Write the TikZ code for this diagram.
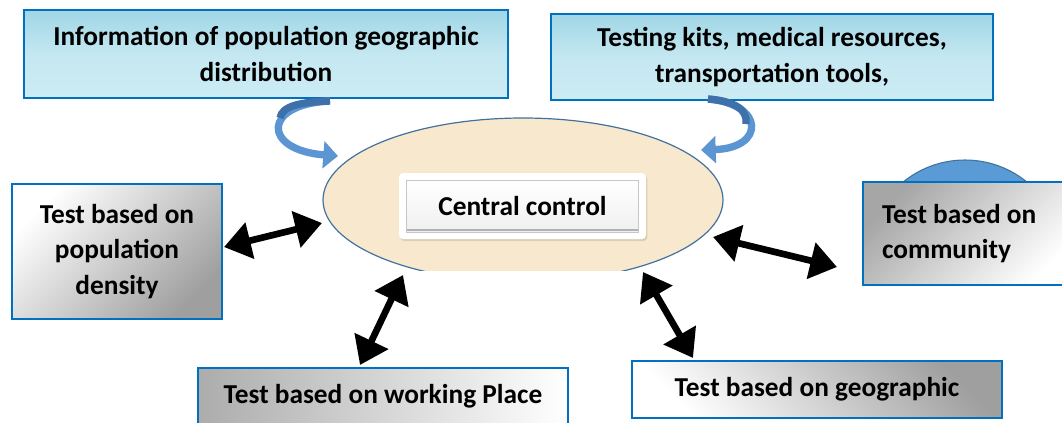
\documentclass[tikz,border=0pt]{standalone}
\usepackage{fontspec}
\setmainfont{Carlito}
\usetikzlibrary{arrows.meta,shadows}
\definecolor{frameblue}{RGB}{0,112,192}
\definecolor{waterlight}{RGB}{205,236,244}
\definecolor{waterdark}{RGB}{160,214,230}
\definecolor{ellfill}{RGB}{248,233,206}
\definecolor{ellline}{RGB}{65,113,156}
\definecolor{ribbon}{RGB}{91,150,210}
\definecolor{ribbondark}{RGB}{62,112,170}
\definecolor{domeblue}{RGB}{91,155,213}
\tikzset{
  txt/.style={font=\bfseries\fontsize{20.5}{26.5}\selectfont, align=center, text=black},
  infobox/.style={txt, draw=frameblue, line width=1.6pt, top color=waterdark, bottom color=waterlight, middle color=waterlight!80!waterdark},
  testbox/.style={txt, draw=frameblue, line width=1.6pt},
  dblarrow/.style={line width=5pt, black, {Triangle[length=20pt,width=27pt]}-{Triangle[length=20pt,width=27pt]}},
  curlarrow/.style={line width=5.5pt, ribbon, -{Triangle[length=11pt,width=20pt]}},
}
\begin{document}
\begin{tikzpicture}[x=0.75pt,y=-0.75pt]
\useasboundingbox (0,0) rectangle (1062,422);

% blue dome peeking above the community box
\begin{scope}
  \clip (850,150) rectangle (1062,200);
  \fill[domeblue, draw=ellline, line width=0.8pt] (965,258) circle[radius=98];
\end{scope}

% central ellipse, flat at its lower edge
\begin{scope}
  \clip (300,100) rectangle (760,270);
  \draw[fill=ellfill, draw=ellline, line width=0.9pt] (523,200) ellipse[x radius=200, y radius=82];
\end{scope}

% information boxes
\node[infobox, minimum width=363pt, minimum height=66pt] (info) at (266,54)
  {Information of population geographic\\ distribution};
\node[infobox, minimum width=331.5pt, minimum height=64.5pt] (res) at (772,57)
  {Testing kits, medical resources,\\ transportation tools,};

% central button
\node[fill=white, rounded corners=3pt, drop shadow={opacity=0.25, shadow xshift=1pt, shadow yshift=-1.5pt},
      minimum width=185.25pt, minimum height=49.5pt] (ctrl) at (522.5,206) {};
\node[txt, top color=white, bottom color=gray!12, draw=gray!45, line width=0.6pt,
      minimum width=174pt, minimum height=39pt] (ctrllabel) at (ctrl.center) {Central control};
\draw[gray!60, line width=1.5pt] ([xshift=1pt,yshift=1.5pt]ctrllabel.south west) -- ([xshift=-1pt,yshift=1.5pt]ctrllabel.south east);

% test boxes
\node[testbox, top color=white, bottom color=gray!75, shading angle=45,
      minimum width=157.5pt, minimum height=101.25pt] (dens) at (117,251.5)
  {Test based on\\ population\\ density};
\node[testbox, left color=gray!65, right color=white,
      minimum width=277.5pt, minimum height=42pt] (work) at (383,396)
  {Test based on working Place};
\node[testbox, top color=gray!70, bottom color=white, shading angle=45, align=flush left,
      text width=130.5pt, inner xsep=14.25pt, minimum height=77.25pt] (comm) at (969,233.5)
  {Test based on\\ community};
\node[testbox, top color=gray!75, bottom color=white, shading angle=-45,
      minimum width=277.5pt, minimum height=42.75pt] (geo) at (817,389.5)
  {Test based on geographic};

% curled arrows feeding the central control
\coordinate (infoout) at (330,101);
\coordinate (infoin) at (338,156);
\coordinate (resout) at (708,99);
\coordinate (resin) at (701,150);
\draw[curlarrow] (infoout) .. controls (262,104) and (262,150) .. (infoin);
\draw[line width=5.5pt, ribbondark] (infoout) .. controls (300,102) and (282,106) .. (280,118);
\draw[curlarrow] (resout) .. controls (765,104) and (765,148) .. (resin);
\draw[line width=5.5pt, ribbondark] (resout) .. controls (735,101) and (748,110) .. (746,124);

% double arrows between the centre and the tests
\coordinate (densend) at (224,247);
\coordinate (ctrlw) at (322,223);
\coordinate (workend) at (360,365);
\coordinate (ctrlsw) at (403,275);
\coordinate (ctrle) at (713,237);
\coordinate (commend) at (837,267);
\coordinate (ctrlse) at (643,272);
\coordinate (geoend) at (693,358);
\draw[dblarrow] (densend) -- (ctrlw);
\draw[dblarrow] (workend) -- (ctrlsw);
\draw[dblarrow] (ctrle) -- (commend);
\draw[dblarrow] (ctrlse) -- (geoend);
\end{tikzpicture}
\end{document}
